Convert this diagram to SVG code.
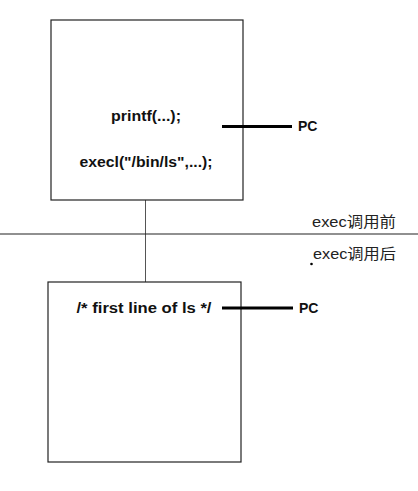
<svg xmlns="http://www.w3.org/2000/svg" width="418" height="491" viewBox="0 0 418 491">
<style>
.box{fill:#fff;stroke:#222;stroke-width:1.2}
.code{font-family:"Liberation Sans",Arial,sans-serif;font-weight:bold;font-size:14px;fill:#111}
.pc{stroke:#000;stroke-width:3.2}
.lbl{font-family:"Liberation Sans","Noto Sans CJK SC",sans-serif;font-size:14.5px;fill:#222}
</style>
<rect width="418" height="491" fill="#fff"/>
<g id="connectors">
<line x1="145.5" y1="200" x2="145.5" y2="282" stroke="#555" stroke-width="1"/>
</g>
<line id="divider" x1="0" y1="234" x2="418" y2="234" stroke="#222" stroke-width="1.2"/>
<g id="before-process">
<rect class="box" x="51" y="20" width="192" height="180"/>
<text class="code" x="146" y="121" text-anchor="middle" textLength="70" lengthAdjust="spacingAndGlyphs">printf(...);</text>
<text class="code" x="146" y="167" text-anchor="middle" textLength="133" lengthAdjust="spacingAndGlyphs">execl("/bin/ls",...);</text>
</g>
<g id="pc-before">
<line class="pc" x1="222" y1="126.5" x2="292" y2="126.5"/>
<text class="code" x="298" y="130.5" textLength="19.5" lengthAdjust="spacingAndGlyphs">PC</text>
</g>
<g id="after-process">
<rect class="box" x="48" y="282" width="193" height="180"/>
<text class="code" x="144" y="312.5" text-anchor="middle" textLength="135" lengthAdjust="spacingAndGlyphs">/* first line of ls */</text>
</g>
<g id="pc-after">
<line class="pc" x1="222" y1="308" x2="293" y2="308"/>
<text class="code" x="299" y="313" textLength="19.5" lengthAdjust="spacingAndGlyphs">PC</text>
</g>
<g id="labels">
<text class="lbl" x="312" y="226.5" textLength="84" lengthAdjust="spacingAndGlyphs">exec调用前</text>
<text class="lbl" x="313" y="259" textLength="83" lengthAdjust="spacingAndGlyphs">exec调用后</text>
<circle cx="311.5" cy="264" r="1.3" fill="#000"/>
</g>
</svg>
